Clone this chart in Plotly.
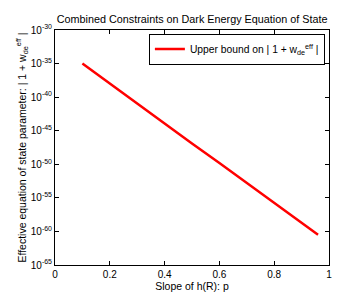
import plotly.graph_objects as go

p_vals = [0.1, 0.2, 0.3, 0.4, 0.5, 0.6, 0.7, 0.8, 0.9, 0.96]
log_bound = [-35.0, -38.0, -40.9, -43.9, -46.9, -49.8, -52.8, -55.7, -58.7, -60.5]
bound_vals = [10 ** v for v in log_bound]

y_tick_exps = [-65, -60, -55, -50, -45, -40, -35, -30]
x_ticks = [0, 0.2, 0.4, 0.6, 0.8, 1]
x_tick_text = ["0", "0.2", "0.4", "0.6", "0.8", "1"]

font = "Liberation Sans, Arial, sans-serif"

fig = go.Figure()
fig.add_trace(go.Scatter(
    x=p_vals, y=bound_vals, mode="lines",
    line=dict(color="#ff0000", width=2.5),
    name="Upper bound on | 1 + w<sub>de</sub><sup>eff</sup> |",
))

fig.update_layout(
    width=354, height=294,
    margin=dict(l=47, r=33, t=22, b=34),
    paper_bgcolor="white", plot_bgcolor="white",
    font=dict(family=font, size=10, color="black"),
    title=dict(text="Combined Constraints on Dark Energy Equation of State",
               x=0.52, xanchor="center", y=0.975, yanchor="top",
               font=dict(size=10.8)),
    showlegend=True,
    legend=dict(x=0.985, y=0.985, xanchor="right", yanchor="top",
                bordercolor="black", borderwidth=1, bgcolor="white",
                itemwidth=30, tracegroupgap=0,
                font=dict(size=10.3)),
    xaxis=dict(range=[0, 1], tickvals=x_ticks, ticktext=x_tick_text,
               ticks="inside", ticklen=4, tickcolor="black",
               showline=True, linecolor="black", linewidth=1, mirror="ticks",
               showgrid=False, zeroline=False,
               title=dict(text="Slope of h(R): p", standoff=3, font=dict(size=10.5)),
               tickfont=dict(size=10)),
    yaxis=dict(type="log", range=[-65, -30],
               tickvals=[10 ** e for e in y_tick_exps],
               ticktext=["10<sup>%d</sup>" % e for e in y_tick_exps],
               ticks="inside", ticklen=4, tickcolor="black",
               showline=True, linecolor="black", linewidth=1, mirror="ticks",
               showgrid=False, zeroline=False,
               title=dict(text="Effective equation of state parameter: | 1 + w<sub>de</sub><sup>eff</sup> |",
                          standoff=2, font=dict(size=10.5)),
               tickfont=dict(size=10)),
)

fig.write_html("out.html")
